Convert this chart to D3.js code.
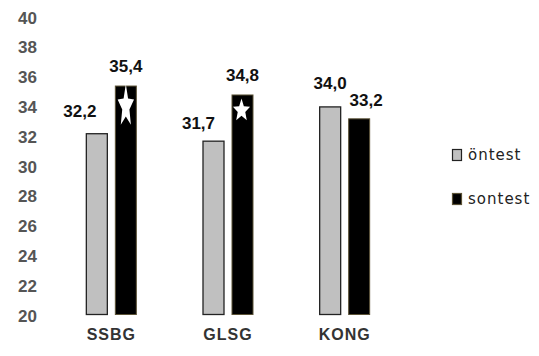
<!DOCTYPE html>
<html>
<head>
<meta charset="utf-8">
<script src="https://cdn.jsdelivr.net/npm/d3@7"></script>
<style>
  html, body { margin: 0; padding: 0; background: #fff; }
  svg { display: block; }
</style>
</head>
<body>
<svg id="chart" width="539" height="356"></svg>
<script>
// ---- data ----
const categories = ["SSBG", "GLSG", "KONG"];
const seriesNames = ["öntest", "sontest"];
const ontest = [32.2, 31.7, 34.0];
const sontest = [35.4, 34.8, 33.2];
const significant = [true, true, false];   // star markers on sontest bars
const yTicks = [20, 22, 24, 26, 28, 30, 32, 34, 36, 38, 40];
const labelNudges = [[-17, -23], [0, -20], [-15, -18], [0, -20], [0, -24], [7, -19]];

// ---- layout ----
const svg = d3.select("#chart");
const y = d3.scaleLinear().domain([20, 40]).range([315, 17]);
const x = d3.scaleBand().domain(categories).range([53, 403]).padding(0);
const barW = 22, gap = 7;
const fmt = v => d3.format(".1f")(v).replace(".", ",");

// y axis labels (no line, no ticks)
const yAxis = d3.axisLeft(y).tickValues(yTicks).tickSize(0).tickPadding(0);
const gy = svg.append("g").attr("transform", "translate(37,0)").call(yAxis);
gy.select(".domain").remove();
gy.selectAll("text")
  .attr("font-family", "'Liberation Sans', Arial, sans-serif")
  .attr("font-weight", "bold")
  .attr("font-size", 17)
  .attr("fill", "#555")
  .attr("dy", "0.36em");

// x axis labels
const xAxis = d3.axisBottom(x).tickSize(0).tickPadding(0);
const gx = svg.append("g").attr("transform", "translate(0,328)").call(xAxis);
gx.select(".domain").remove();
gx.selectAll("text")
  .attr("font-family", "'Liberation Sans', Arial, sans-serif")
  .attr("font-weight", "bold")
  .attr("font-size", 16)
  .attr("letter-spacing", 1)
  .attr("fill", "#333")
  .attr("dy", "0.75em");

const rows = categories.map((c, i) => ({c, i, a: ontest[i], b: sontest[i], sig: significant[i]}));
const cx = c => x(c) + x.bandwidth() / 2;

// bars
const g = svg.append("g");
g.selectAll("rect.on").data(rows).join("rect")
  .attr("class", "on")
  .attr("x", d => cx(d.c) - gap / 2 - barW + 0.5)
  .attr("y", d => y(d.a) + 0.5)
  .attr("width", barW - 1)
  .attr("height", d => y(20) - y(d.a) - 1)
  .attr("fill", "#c0c0c0")
  .attr("stroke", "#222")
  .attr("stroke-width", 1.3);
g.selectAll("rect.son").data(rows).join("rect")
  .attr("class", "son")
  .attr("x", d => cx(d.c) + gap / 2 + 0.5)
  .attr("y", d => y(d.b) + 0.5)
  .attr("width", barW - 1)
  .attr("height", d => y(20) - y(d.b) - 1)
  .attr("fill", "#000")
  .attr("stroke", "#5b5236")
  .attr("stroke-width", 1);

// stars on significant sontest bars (unit five-point star, point up)
const starPts = d3.range(10).map(k => {
  const r = k % 2 === 0 ? 1 : 0.44;
  const a = k * Math.PI / 5;
  return [r * Math.sin(a), -r * Math.cos(a)];
});
const starPath = d3.line()(starPts) + "Z";
const starShapes = [{sx: 8.6, sy: 22.5, dy: 21, dx: 0}, {sx: 9, sy: 12, dy: 16, dx: -1}];
g.selectAll("path.star").data(rows.filter(d => d.sig)).join("path")
  .attr("class", "star")
  .attr("d", starPath)
  .attr("transform", (d, k) => {
    const s = starShapes[k];
    return `translate(${cx(d.c) + gap / 2 + barW / 2 + s.dx},${y(d.b) + s.dy}) scale(${s.sx},${s.sy})`;
  })
  .attr("fill", "#fff")
  .attr("stroke", "none");

// value labels
const labels = [];
rows.forEach(d => {
  labels.push({v: d.a, x: cx(d.c) - gap / 2 - barW / 2});
  labels.push({v: d.b, x: cx(d.c) + gap / 2 + barW / 2});
});
svg.append("g").selectAll("text").data(labels).join("text")
  .attr("x", (d, k) => d.x + labelNudges[k][0])
  .attr("y", (d, k) => y(d.v) + labelNudges[k][1] + 6.5)
  .attr("text-anchor", "middle")
  .attr("font-family", "'Liberation Sans', Arial, sans-serif")
  .attr("font-weight", "bold")
  .attr("font-size", 17)
  .attr("fill", "#111")
  .text(d => fmt(d.v));

// legend
const legend = svg.append("g").attr("transform", "translate(452,149)");
const lg = legend.selectAll("g").data(seriesNames).join("g")
  .attr("transform", (d, i) => `translate(0,${i * 44})`);
lg.append("rect")
  .attr("x", 0.5).attr("y", 0.5).attr("width", 9).attr("height", 11)
  .attr("fill", (d, i) => i === 0 ? "#c0c0c0" : "#000")
  .attr("stroke", (d, i) => i === 0 ? "#222" : "#5b5236")
  .attr("stroke-width", 1.2);
lg.append("text")
  .attr("x", 16).attr("y", 6).attr("dy", "0.35em")
  .attr("font-family", "'DejaVu Sans', sans-serif")
  .attr("font-size", 15)
  .attr("letter-spacing", 1)
  .attr("fill", "#222")
  .text(d => d);
</script>
</body>
</html>
